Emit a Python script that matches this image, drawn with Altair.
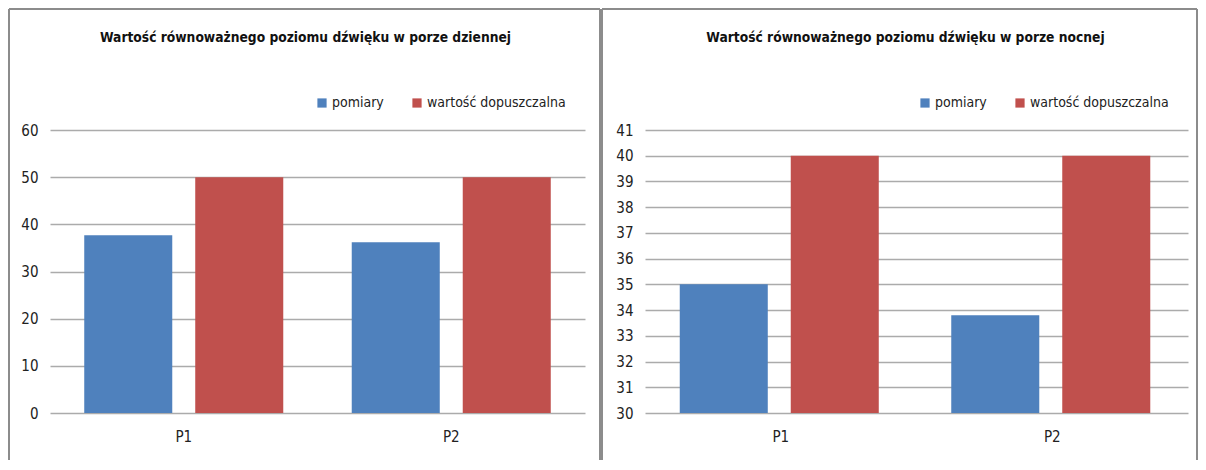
import altair as alt
import pandas as pd

points = ["P1", "P2"]
series = ["pomiary", "wartość dopuszczalna"]
colors = ["#4F81BD", "#C0504D"]

day_title = "Wartość równoważnego poziomu dźwięku w porze dziennej"
day_measured = [37.7, 36.2]
day_limit = [50, 50]
day_ticks = [0, 10, 20, 30, 40, 50, 60]

night_title = "Wartość równoważnego poziomu dźwięku w porze nocnej"
night_measured = [35.0, 33.8]
night_limit = [40, 40]
night_ticks = [30, 31, 32, 33, 34, 35, 36, 37, 38, 39, 40, 41]

FONT = "DejaVu Sans Condensed, sans-serif"
FRAME = "#8c8c8c"
H = 283


def panel(measured, limit, ticks, title, W, fl, fr, tdx):
    df = pd.DataFrame({
        "punkt": points * 2,
        "seria": [series[0]] * len(points) + [series[1]] * len(points),
        "wartosc": measured + limit,
    })
    bars = alt.Chart(df).mark_bar(clip=True).encode(
        x=alt.X("punkt:N", sort=points,
                scale=alt.Scale(paddingInner=0.256, paddingOuter=0.128),
                axis=alt.Axis(title=None, labelAngle=0, ticks=False, domain=False,
                              labelPadding=16, labelFontSize=15, labelColor="#222",
                              labelFont=FONT)),
        xOffset=alt.XOffset("seria:N", sort=series,
                            scale=alt.Scale(paddingInner=0.207, paddingOuter=0)),
        y=alt.Y("wartosc:Q",
                scale=alt.Scale(domain=[ticks[0], ticks[-1]], nice=False, zero=False),
                axis=alt.Axis(title=None, values=ticks, ticks=False, domain=False,
                              labelPadding=12, labelFontSize=15, labelColor="#222",
                              labelFont=FONT, gridColor="#ababab", gridWidth=1.5)),
        color=alt.Color("seria:N", sort=series,
                        scale=alt.Scale(domain=series, range=colors),
                        legend=alt.Legend(title=None, orient="none", direction="horizontal",
                                          legendX=W - 270, legendY=-34,
                                          symbolType="square", symbolSize=85,
                                          symbolStrokeWidth=0, labelFontSize=14,
                                          labelFont=FONT, labelColor="#222",
                                          labelOffset=3, columnPadding=26)),
    )
    fdf = pd.DataFrame({"f": [0]})
    base = alt.Chart(fdf).mark_rule(color=FRAME, strokeWidth=2)
    top = base.encode(x=alt.value(fl), x2=alt.value(fr), y=alt.value(-121))
    left = base.encode(x=alt.value(fl), y=alt.value(-121), y2=alt.value(330))
    right = base.encode(x=alt.value(fr), y=alt.value(-121), y2=alt.value(330))
    return alt.layer(bars, top, left, right).properties(
        width=W, height=H,
        title=alt.TitleParams(title, font=FONT, fontSize=13.7, fontWeight="bold",
                              color="#111", anchor="middle", offset=-37, dx=tdx),
    )


left_panel = panel(day_measured, day_limit, day_ticks, day_title, 535, -41, 550, -12)
right_panel = panel(night_measured, night_limit, night_ticks, night_title, 543, -43, 552, -11)

chart = alt.hconcat(left_panel, right_panel, spacing=0).properties(padding=0).configure_view(
    stroke=None
).resolve_scale(color="independent")

chart.save("out.html", embed_options={"renderer": "svg", "actions": False})
